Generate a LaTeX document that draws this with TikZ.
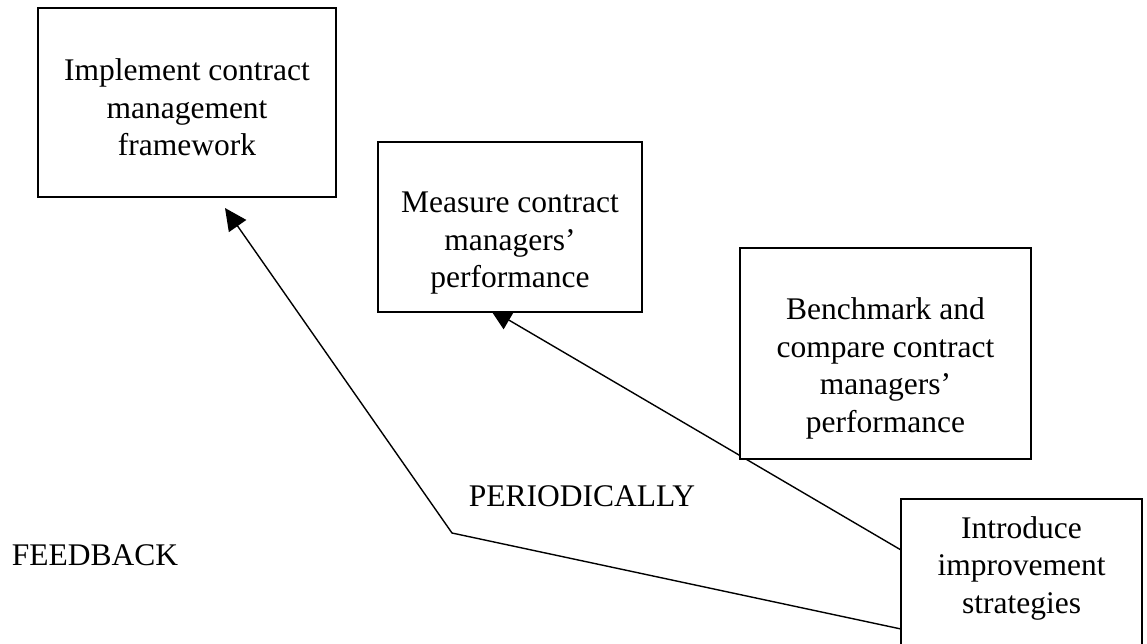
\documentclass[tikz,border=0pt]{standalone}
\usepackage{fontspec}
\setmainfont{Liberation Serif}
\usetikzlibrary{arrows.meta,calc}
\pgfdeclarelayer{bg}
\pgfsetlayers{bg,main}
\tikzset{
  box/.style={draw, line width=1.5pt, fill=white, rectangle, anchor=north west, inner sep=0pt, outer sep=0pt},
  txt/.style={align=center, inner sep=0pt, font=\fontsize{31.5}{37.5}\selectfont},
  conn/.style={line width=1.4pt, line join=miter},
  tip/.style={-{Triangle[length=22pt,width=21pt]}}
}
\begin{document}
\begin{tikzpicture}[x=1pt,y=-1pt]
\useasboundingbox (0,0) rectangle (1147,643);
% boxes
\node[box, minimum width=298pt, minimum height=189pt] (b1) at (38,8) {};
\node[box, minimum width=264pt, minimum height=170pt] (b2) at (378,142) {};
\node[box, minimum width=291pt, minimum height=211pt] (b3) at (740,248) {};
\node[box, minimum width=241pt, minimum height=175pt] (b4) at (901,499) {};
% texts
\node[txt] (t1) at (187,107.7) {Implement contract\\management\\framework};
\node[txt] (t2) at (510,243.5) {Measure contract\\managers’\\performance};
\node[txt] (t3) at (885.5,368.2) {Benchmark and\\compare contract\\managers’\\performance};
\node[txt] (t4) at (1021.5,568) {Introduce\\improvement\\strategies};
\node[txt, anchor=base] (per) at (582,506) {PERIODICALLY};
\node[txt, anchor=base] (fbk) at (95,565) {FEEDBACK};
% connector points
\coordinate (bend) at (452,533);
\coordinate (tipa) at (225,208);
\coordinate (tipb) at (490,309);
\begin{pgfonlayer}{bg}
\draw[conn, tip] ($(b4.north west)+(0,130)$) -- (bend) -- (tipa);
\draw[conn, tip] ($(b4.north west)+(0,51)$) -- (tipb);
\end{pgfonlayer}
\end{tikzpicture}
\end{document}
